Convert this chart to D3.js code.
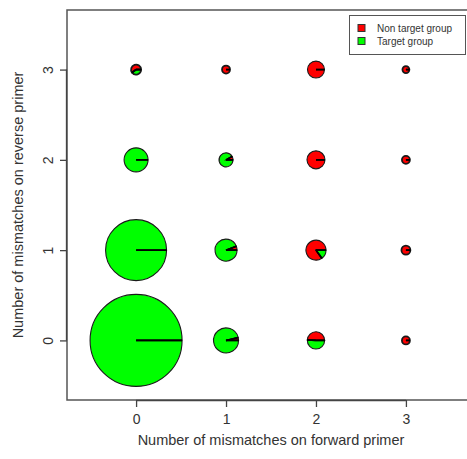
<!DOCTYPE html>
<html>
<head>
<meta charset="utf-8">
<script src="https://cdn.jsdelivr.net/npm/d3@7"></script>
<style>
  html, body { margin: 0; padding: 0; background: #fff; }
  svg { display: block; font-family: "Liberation Sans", Arial, sans-serif; }
</style>
</head>
<body>
<svg id="chart" width="467" height="459"></svg>
<script>
// ---- data ----
const fwdMismatches   = [0, 0, 0, 0, 1, 1, 1, 1, 2, 2, 2, 2, 3, 3, 3, 3];
const revMismatches   = [0, 1, 2, 3, 0, 1, 2, 3, 0, 1, 2, 3, 0, 1, 2, 3];
const nonTargetCounts = [0, 0, 0, 15, 6, 7, 4, 16, 37, 85, 81, 72, 16, 20, 16, 12];
const targetCounts    = [2116, 930, 144, 10, 150, 114, 45, 0, 38, 15, 0, 0, 0, 0, 0, 0];
const tickValues = [0, 1, 2, 3];
const groupNames = ["Non target group", "Target group"];
const groupColors = ["#ff0000", "#00ff00"];
const xTitle = "Number of mismatches on forward primer";
const yTitle = "Number of mismatches on reverse primer";

const svg = d3.select("#chart");

const x = d3.scaleLinear().domain([-0.768, 3.768]).range([67, 475]);
const y = d3.scaleLinear().domain([-0.66, 3.66]).range([400, 10]);
const totals = targetCounts.map((t, i) => t + nonTargetCounts[i]);
const r = d3.scaleSqrt().domain([0, d3.max(totals)]).range([0, 46]);

// frame
svg.append("rect")
  .attr("x", x.range()[0]).attr("y", y.range()[1])
  .attr("width", x.range()[1] - x.range()[0])
  .attr("height", y.range()[0] - y.range()[1])
  .attr("fill", "none").attr("stroke", "#555").attr("stroke-width", 1.5);

// axes
const xAxis = d3.axisBottom(x).tickValues(tickValues).tickSize(7).tickPadding(7).tickFormat(d3.format("d"));
const gx = svg.append("g").attr("transform", `translate(0,${y.range()[0]})`).call(xAxis);
gx.select(".domain").attr("d", `M${x(0)},0.5H${x(3)}`).attr("stroke", "#444").attr("stroke-width", 1.3);
gx.selectAll(".tick line").attr("stroke", "#444").attr("stroke-width", 1.3);
gx.selectAll("text").attr("font-size", 14).attr("fill", "#333").attr("font-family", "Liberation Sans, Arial, sans-serif");

const yAxis = d3.axisLeft(y).tickValues(tickValues).tickSize(7).tickPadding(6).tickFormat(d3.format("d"));
const gy = svg.append("g").attr("transform", `translate(${x.range()[0]},0)`).call(yAxis);
gy.select(".domain").attr("d", `M-0.5,${y(0)}V${y(3)}`).attr("stroke", "#444").attr("stroke-width", 1.3);
gy.selectAll(".tick line").attr("stroke", "#444").attr("stroke-width", 1.3);
gy.selectAll("text")
  .attr("font-size", 14).attr("fill", "#333").attr("font-family", "Liberation Sans, Arial, sans-serif")
  .attr("x", null).attr("dy", null)
  .attr("text-anchor", "middle")
  .attr("transform", "translate(-19,0) rotate(-90)")
  .attr("dy", "0.35em");

// axis titles
svg.append("text")
  .attr("x", (x(0) + x(3)) / 2).attr("y", 445)
  .attr("text-anchor", "middle").attr("font-size", 14.5).attr("fill", "#333")
  .text(xTitle);
svg.append("text")
  .attr("transform", `translate(18,${(y(0) + y(3)) / 2}) rotate(-90)`)
  .attr("text-anchor", "middle").attr("dy", "0.35em").attr("font-size", 14.5).attr("fill", "#333")
  .text(yTitle);

// pies (counter-clockwise from 3 o'clock, non-target first)
const pie = d3.pie().sort(null).value(d => d.v)
  .startAngle(Math.PI / 2).endAngle(Math.PI / 2 - 2 * Math.PI);

const cells = fwdMismatches.map((f, i) => ({
  f, rv: revMismatches[i],
  slices: [{v: nonTargetCounts[i], c: groupColors[0]}, {v: targetCounts[i], c: groupColors[1]}],
  total: totals[i]
}));

const gp = svg.append("g");
cells.forEach(cell => {
  const cx = x(cell.f), cy = y(cell.rv), rad = r(cell.total);
  const sw = rad < 6 ? 1.8 : 1.1;
  const g = gp.append("g").attr("transform", `translate(${cx},${cy})`);
  const arcs = pie(cell.slices);
  const arc = d3.arc().innerRadius(0).outerRadius(rad);
  g.selectAll("path.s").data(arcs.filter(a => a.data.v > 0)).join("path")
    .attr("class", "s")
    .attr("d", arc)
    .attr("fill", a => a.data.c)
    .attr("stroke", "#1a1a1a").attr("stroke-width", sw);
  // radial boundary lines
  const bounds = [];
  arcs.forEach(a => { if (a.data.v > 0) bounds.push(a.startAngle, a.endAngle); });
  bounds.forEach(ang => {
    g.append("line")
      .attr("x1", 0).attr("y1", 0)
      .attr("x2", rad * Math.sin(ang)).attr("y2", -rad * Math.cos(ang))
      .attr("stroke", "#000").attr("stroke-width", 1.6);
  });
});

// legend
const lg = svg.append("g");
lg.append("rect").attr("x", 349.5).attr("y", 15.5).attr("width", 116).attr("height", 39)
  .attr("fill", "#fff").attr("stroke", "#555").attr("stroke-width", 1);
groupNames.forEach((name, i) => {
  const yy = 28 + i * 13;
  lg.append("rect").attr("x", 358).attr("y", yy - 3.5).attr("width", 7).attr("height", 7)
    .attr("fill", groupColors[i]).attr("stroke", "#333").attr("stroke-width", 1);
  lg.append("text").attr("x", 377).attr("y", yy).attr("dy", "0.35em")
    .attr("font-size", 10).attr("fill", "#333").text(name);
});
</script>
</body>
</html>
